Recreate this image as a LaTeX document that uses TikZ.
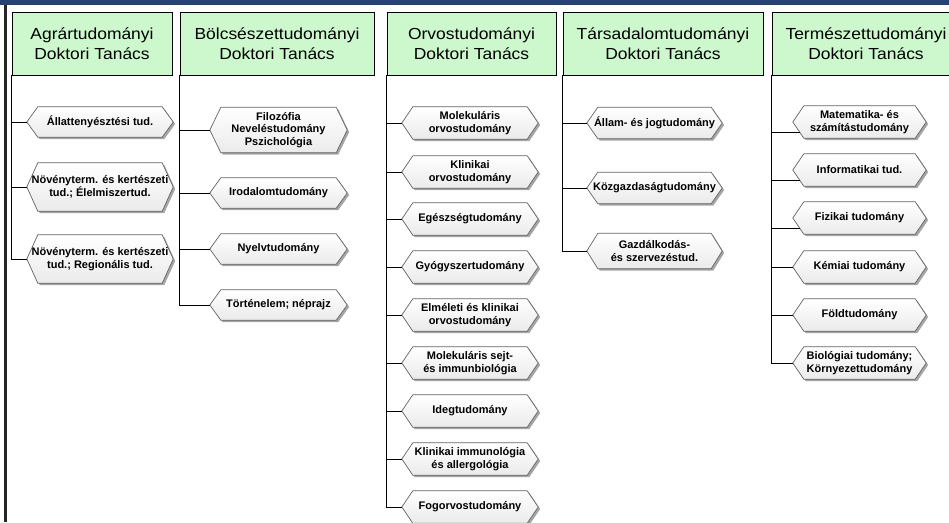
\documentclass[tikz,border=0pt]{standalone}
\usepackage{fontspec}
\setmainfont{Liberation Sans}
\newfontfamily\headfont[FakeStretch=1.09]{Liberation Sans}
\usetikzlibrary{calc}
\pgfdeclarelayer{background}
\pgfdeclarelayer{backmost}
\pgfsetlayers{backmost,background,main}
\definecolor{headgreen}{RGB}{205,248,205}
\definecolor{topnavy}{RGB}{38,66,112}
\definecolor{hexline}{RGB}{100,100,100}
\definecolor{hexshadow}{RGB}{165,165,165}
\tikzset{
  head/.style={rectangle, draw=black, line width=0.8pt, fill=headgreen,
    align=center, inner sep=0pt, minimum height=63,
    font=\headfont\fontsize{16}{20.5}\selectfont},
  hexbox/.style={rectangle, inner sep=0pt, align=center,
    font=\fontsize{11}{12.5}\selectfont\bfseries},
  conn/.style={draw=black, line width=0.7pt},
}
\begin{document}
\begin{tikzpicture}[x=1pt,y=-1pt]
\useasboundingbox (0,0) rectangle (949,522);
\clip (0,0) rectangle (949,522);
\begin{pgfonlayer}{backmost}
\fill[white] (0,0) rectangle (949,522);
\fill[topnavy] (0,0) rectangle (949,5);
\fill[black!85] (4,5) rectangle (7,522);
\end{pgfonlayer}

% headers
\node[head, minimum width=160] (hA) at (92,43.5) {Agrártudományi\\Doktori Tanács};
\node[head, minimum width=194] (hB) at (277,43.5) {Bölcsészettudományi\\Doktori Tanács};
\node[head, minimum width=169] (hC) at (471.5,43.5) {Orvostudományi\\Doktori Tanács};
\node[head, minimum width=200] (hD) at (663,43.5) {Társadalomtudományi\\Doktori Tanács};
\node[head, minimum width=188] (hE) at (866,43.5) {Természettudományi\\Doktori Tanács};

% Agrar
\node[hexbox, minimum width=146, minimum height=30] (a1) at (100,122) {Állattenyésztési tud.};
\node[hexbox, minimum width=146, minimum height=48] (a2) at (100,187) {Növényterm. és kertészeti\\tud.; Élelmiszertud.};
\node[hexbox, minimum width=146, minimum height=48] (a3) at (100,259) {Növényterm. és kertészeti\\tud.; Regionális tud.};
% Bolcsesz
\node[hexbox, minimum width=137, minimum height=45] (b1) at (278.5,130) {Filozófia\\Neveléstudomány\\Pszichológia};
\node[hexbox, minimum width=137, minimum height=30] (b2) at (278.5,193) {Irodalomtudomány};
\node[hexbox, minimum width=137, minimum height=30] (b3) at (278.5,249) {Nyelvtudomány};
\node[hexbox, minimum width=137, minimum height=30] (b4) at (278.5,305) {Történelem; néprajz};
% Orvos
\node[hexbox, minimum width=136, minimum height=32] (c1) at (470,123) {Molekuláris\\orvostudomány};
\node[hexbox, minimum width=136, minimum height=32] (c2) at (470,172) {Klinikai\\orvostudomány};
\node[hexbox, minimum width=136, minimum height=32] (c3) at (470,219) {Egészségtudomány};
\node[hexbox, minimum width=136, minimum height=32] (c4) at (470,267) {Gyógyszertudomány};
\node[hexbox, minimum width=136, minimum height=32] (c5) at (470,315) {Elméleti és klinikai\\orvostudomány};
\node[hexbox, minimum width=136, minimum height=32] (c6) at (470,363) {Molekuláris sejt-\\és immunbiológia};
\node[hexbox, minimum width=136, minimum height=32] (c7) at (470,411) {Idegtudomány};
\node[hexbox, minimum width=136, minimum height=32] (c8) at (470,459) {Klinikai immunológia\\és allergológia};
\node[hexbox, minimum width=136, minimum height=32] (c9) at (470,507) {Fogorvostudomány};
% Tarsadalom
\node[hexbox, minimum width=135, minimum height=31] (d1) at (654.5,123) {Állam- és jogtudomány};
\node[hexbox, minimum width=135, minimum height=31] (d2) at (654.5,188) {Közgazdaságtudomány};
\node[hexbox, minimum width=135, minimum height=35] (d3) at (654.5,251) {Gazdálkodás-\\és szervezéstud.};
% Termeszet
\node[hexbox, minimum width=133, minimum height=32] (e1) at (859.5,122) {Matematika- és\\számítástudomány};
\node[hexbox, minimum width=133, minimum height=32] (e2) at (859.5,170) {Informatikai tud.};
\node[hexbox, minimum width=133, minimum height=32] (e3) at (859.5,218) {Fizikai tudomány};
\node[hexbox, minimum width=133, minimum height=32] (e4) at (859.5,267) {Kémiai tudomány};
\node[hexbox, minimum width=133, minimum height=32] (e5) at (859.5,315) {Földtudomány};
\node[hexbox, minimum width=133, minimum height=32] (e6) at (859.5,363) {Biológiai tudomány;\\Környezettudomány};

\begin{pgfonlayer}{background}
\foreach \n in {a1,a2,a3,b1,b2,b3,b4,c1,c2,c3,c4,c5,c6,c7,c8,c9,d1,d2,d3,e1,e2,e3,e4,e5,e6}{
  \fill[hexshadow] ([shift={(2,2)}]\n.west) -- ([shift={(13,2)}]\n.north west) -- ([shift={(-9,2)}]\n.north east)
     -- ([shift={(2,2)}]\n.east) -- ([shift={(-9,2)}]\n.south east) -- ([shift={(13,2)}]\n.south west) -- cycle;
  \shadedraw[top color=white, bottom color=black!8, draw=hexline, line width=0.7pt]
     (\n.west) -- ([xshift=11]\n.north west) -- ([xshift=-11]\n.north east)
     -- (\n.east) -- ([xshift=-11]\n.south east) -- ([xshift=11]\n.south west) -- cycle;
}
\end{pgfonlayer}

% connectors
\draw[conn] (hA.south west) |- (a3.west);
\foreach \n in {a1,a2}{\draw[conn] (\n.west) -- (\n.west -| hA.south west);}
\draw[conn] (hB.south west) |- (b4.west);
\foreach \n in {b1,b2,b3}{\draw[conn] (\n.west) -- (\n.west -| hB.south west);}
\draw[conn] (hC.south west) |- (c9.west);
\foreach \n in {c1,c2,c3,c4,c5,c6,c7,c8}{\draw[conn] (\n.west) -- (\n.west -| hC.south west);}
\draw[conn] (hD.south west) |- (d3.west);
\foreach \n in {d1,d2}{\draw[conn] (\n.west) -- (\n.west -| hD.south west);}
\draw[conn] (hE.south west) |- (e6.west);
\foreach \n in {e1,e2,e3}{
  \coordinate (\n c) at ([shift={(7,10)}]\n.west);
  \draw[conn] (\n c) -- (\n c -| hE.south west);}
\foreach \n in {e4,e5}{\draw[conn] (\n.west) -- (\n.west -| hE.south west);}
\end{tikzpicture}
\end{document}
